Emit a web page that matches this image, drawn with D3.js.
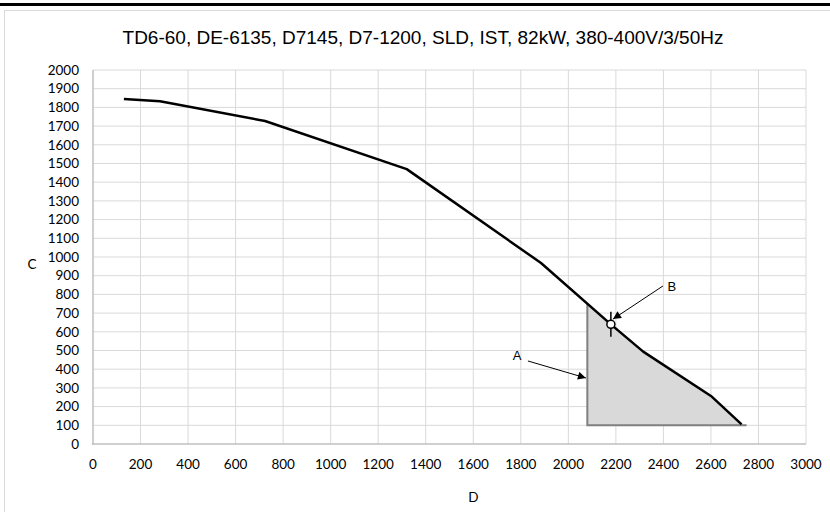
<!DOCTYPE html>
<html><head><meta charset="utf-8">
<script src="https://cdn.jsdelivr.net/npm/d3@7"></script>
<style>body{margin:0;background:#fff}svg{display:block}</style>
</head><body>
<svg id="c" width="830" height="512"></svg>
<script>
const title = "TD6-60, DE-6135, D7145, D7-1200, SLD, IST, 82kW, 380-400V/3/50Hz";
const xTicks = [0,200,400,600,800,1000,1200,1400,1600,1800,2000,2200,2400,2600,2800,3000];
const yTicks = [0,100,200,300,400,500,600,700,800,900,1000,1100,1200,1300,1400,1500,1600,1700,1800,1900,2000];
const curveX = [130, 282, 724, 1320, 1885, 2179, 2315, 2600, 2729];
const curveY = [1845, 1833, 1727, 1470, 968, 640, 494, 257, 105];
const shadeX = [2080, 2080, 2179, 2315, 2600, 2729, 2750];
const shadeY = [100, 750, 640, 494, 257, 105, 100];
const pointB = [2179, 640];
const pointBRange = [573, 707];
const labelA = {text:"A", x:1784, y:471, fromX:1830, fromY:444, toX:2074, toY:353};
const labelB = {text:"B", x:2436, y:840, fromX:2398, fromY:845, toX:2188, toY:668};
const xTitle = "D", yTitle = "C";

const svg = d3.select("#c");
const L=93, R=806, T=70, B=444;
const x = d3.scaleLinear().domain([0,3000]).range([L,R]);
const y = d3.scaleLinear().domain([0,2000]).range([B,T]);

svg.append("defs").append("marker").attr("id","ah").attr("viewBox","0 0 10 10")
  .attr("refX",10).attr("refY",5).attr("markerWidth",10).attr("markerHeight",8)
  .attr("markerUnits","userSpaceOnUse").attr("orient","auto")
  .append("path").attr("d","M0,0L10,5L0,10Z").attr("fill","#000");

// top bar and chart border
svg.append("rect").attr("x",0).attr("y",3).attr("width",830).attr("height",3).attr("fill","#000");
svg.append("rect").attr("x",4.5).attr("y",10.5).attr("width",830).attr("height",520)
  .attr("fill","none").attr("stroke","#d9d9d9");

// grid
const g = svg.append("g");
g.selectAll(".gx").data(xTicks.slice(1)).join("line")
  .attr("x1",d=>x(d)).attr("x2",d=>x(d)).attr("y1",T).attr("y2",B)
  .attr("stroke","#d9d9d9").attr("stroke-width",1);
g.selectAll(".gy").data(yTicks.slice(1)).join("line")
  .attr("x1",L).attr("x2",R).attr("y1",d=>y(d)).attr("y2",d=>y(d))
  .attr("stroke","#d9d9d9").attr("stroke-width",1);
// axis lines
svg.append("line").attr("x1",L).attr("x2",L).attr("y1",T).attr("y2",B+1).attr("stroke","#bfbfbf").attr("stroke-width",1.5);
svg.append("line").attr("x1",L-1).attr("x2",R).attr("y1",B).attr("y2",B).attr("stroke","#bfbfbf").attr("stroke-width",1.5);

// tick labels
svg.append("g").selectAll("text").data(yTicks).join("text")
  .attr("x",79).attr("y",d=>y(d)).attr("dy","0.35em").attr("text-anchor","end")
  .attr("font-family","Lato, 'Open Sans', sans-serif").attr("font-size",13.5).attr("fill","#000")
  .text(d=>d);
svg.append("g").selectAll("text").data(xTicks).join("text")
  .attr("x",d=>x(d)).attr("y",464).attr("dy","0.35em").attr("text-anchor","middle")
  .attr("font-family","Lato, 'Open Sans', sans-serif").attr("font-size",13.5).attr("fill","#000")
  .text(d=>d);

// axis titles
svg.append("text").attr("x",x(1600)).attr("y",497).attr("dy","0.35em").attr("text-anchor","middle")
  .attr("font-family","Lato, sans-serif").attr("font-size",13.5).text(xTitle);
svg.append("text").attr("x",32).attr("y",264).attr("dy","0.35em").attr("text-anchor","middle")
  .attr("font-family","Lato, sans-serif").attr("font-size",13.5).text(yTitle);

// title
svg.append("text").attr("x",423).attr("y",37).attr("dy","0.35em").attr("text-anchor","middle")
  .attr("font-family","'Liberation Sans', Arial, sans-serif").attr("font-size",19).attr("fill","#000")
  .text(title);

// shaded region
const shade = shadeX.map((v,i)=>[x(v),y(shadeY[i])]);
svg.append("path").attr("d",d3.line()(shade)+"Z").attr("fill","#d9d9d9").attr("stroke","none");
svg.append("path").attr("d",d3.line()([shade[1],shade[0],shade[shade.length-1]]))
  .attr("fill","none").attr("stroke","#7f7f7f").attr("stroke-width",2);

// curve
const pts = curveX.map((v,i)=>[x(v),y(curveY[i])]);
svg.append("path").attr("d",d3.line()(pts)).attr("fill","none").attr("stroke","#000")
  .attr("stroke-width",2.5).attr("stroke-linejoin","round");

// point B
svg.append("line").attr("x1",x(pointB[0])).attr("x2",x(pointB[0]))
  .attr("y1",y(pointBRange[0])).attr("y2",y(pointBRange[1])).attr("stroke","#000").attr("stroke-width",1.5);
svg.append("circle").attr("cx",x(pointB[0])).attr("cy",y(pointB[1])).attr("r",4)
  .attr("fill","#fff").attr("stroke","#000").attr("stroke-width",1.5);

// annotations
for (const a of [labelA,labelB]) {
  svg.append("line").attr("x1",x(a.fromX)).attr("y1",y(a.fromY)).attr("x2",x(a.toX)).attr("y2",y(a.toY))
    .attr("stroke","#000").attr("stroke-width",1).attr("marker-end","url(#ah)");
  svg.append("text").attr("x",x(a.x)).attr("y",y(a.y)).attr("dy","0.35em").attr("text-anchor","middle")
    .attr("font-family","'Liberation Sans', Arial, sans-serif").attr("font-size",13).text(a.text);
}
</script>
</body></html>
